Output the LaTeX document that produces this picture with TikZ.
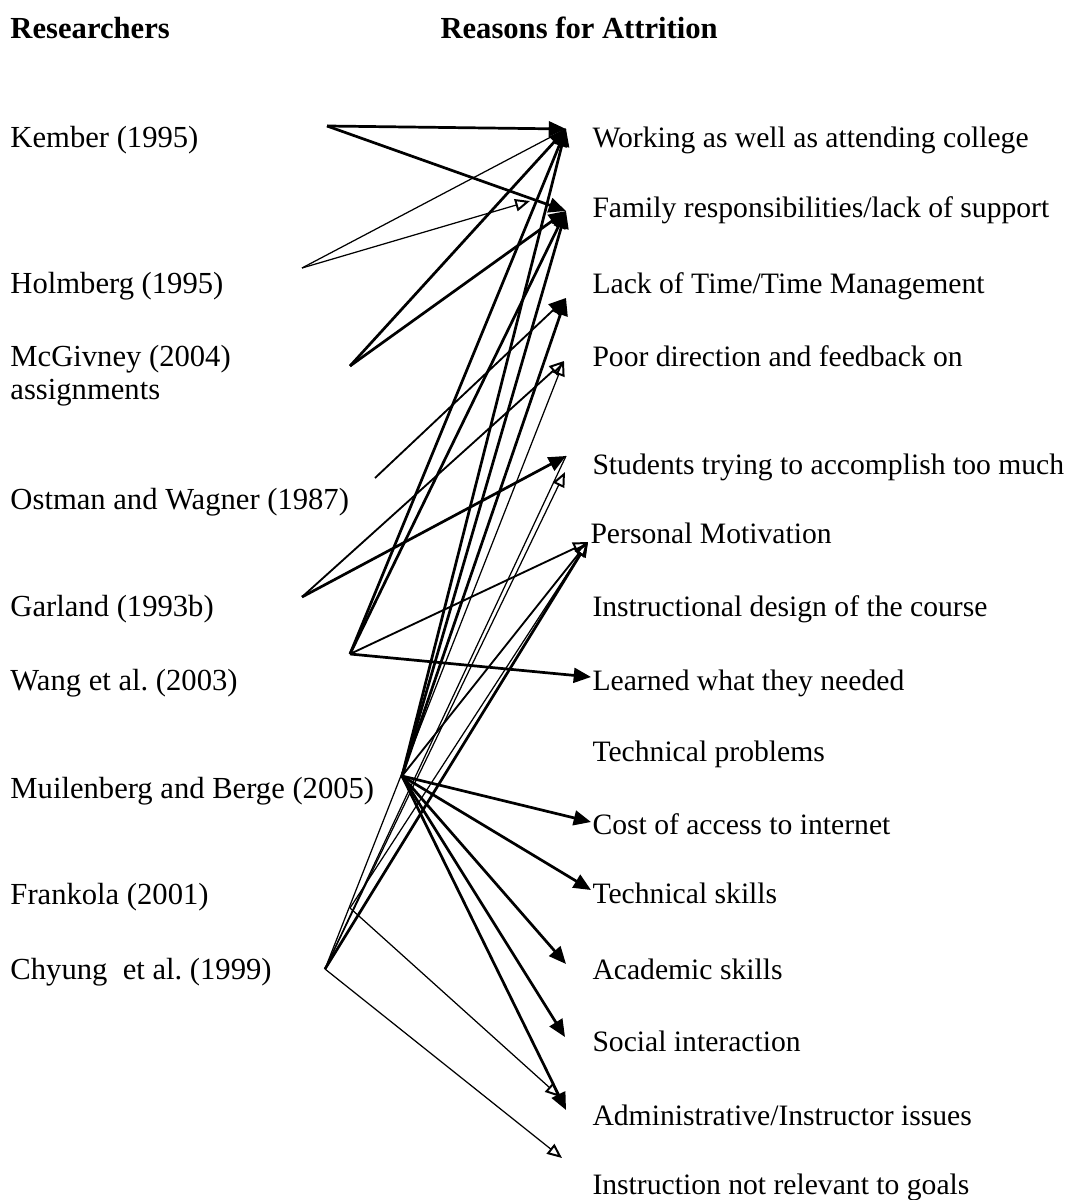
\documentclass[tikz,border=0pt]{standalone}
\usepackage{fontspec}
\setmainfont{Liberation Serif}
\usetikzlibrary{arrows.meta}
\tikzset{
    >={Triangle[length=7pt,width=6pt]},
    hdr/.style={anchor=base west,inner sep=0pt,font=\fontsize{12.4}{15}\selectfont\bfseries},
    who/.style={anchor=base west,inner sep=0pt,font=\fontsize{12.4}{15}\selectfont},
    why/.style={anchor=base west,inner sep=0pt,font=\fontsize{12}{15}\selectfont},
    fatline/.style={line width=1.1pt},
    midline/.style={line width=0.75pt},
    slimline/.style={line width=0.5pt},
    hollow/.style={-{Triangle[open,length=6pt,width=5pt,line width=0.8pt]}},
}

\begin{document}
\begin{tikzpicture}[x=0.405pt,y=-0.405pt]
    \useasboundingbox (0,0) rectangle (1076,1200);

    % headings
    \node[hdr] (hres) at (10,39) {Researchers};
    \node[hdr] (hwhy) at (440,39) {Reasons for Attrition};

    % researchers
    \node[who] (kember) at (10,148) {Kember (1995)};
    \node[who] (holm) at (10,294) {Holmberg (1995)};
    \node[who] (mcgiv) at (10,366) {McGivney (2004)};
    \node[who] (assign) at (10,399) {assignments};
    \node[who] (ostman) at (10,509) {Ostman and Wagner (1987)};
    \node[who] (garl) at (10,616) {Garland (1993b)};
    \node[who] (wang) at (10,690) {Wang et al.\ (2003)};
    \node[who] (muil) at (10,798) {Muilenberg and Berge (2005)};
    \node[who] (frank) at (10,904) {Frankola (2001)};
    \node[who] (chyung) at (10,979) {Chyung\ \ et al.\ (1999)};

    % reasons
    \node[why] (work) at (592,148) {Working as well as attending college};
    \node[why] (fam) at (592,218) {Family responsibilities/lack of support};
    \node[why] (lack) at (592,294) {Lack of Time/Time Management};
    \node[why] (poor) at (592,366) {Poor direction and feedback on};
    \node[why] (stud) at (592,474) {Students trying to accomplish too much};
    \node[why] (pers) at (590,543) {Personal Motivation};
    \node[why] (instr) at (592,616) {Instructional design of the course};
    \node[why] (learn) at (592,690) {Learned what they needed};
    \node[why] (techp) at (592,761) {Technical problems};
    \node[why] (cost) at (592,834) {Cost of access to internet};
    \node[why] (techs) at (592,903) {Technical skills};
    \node[why] (acad) at (592,979) {Academic skills};
    \node[why] (soc) at (592,1051) {Social interaction};
    \node[why] (admin) at (592,1125) {Administrative/Instructor issues};
    \node[why] (goals) at (592,1194) {Instruction not relevant to goals};

    % where the lines start
    \coordinate (kemS) at (327,126);
    \coordinate (holS) at (302,268);
    \coordinate (mcgS) at (350,366);
    \coordinate (ostS) at (375,478);
    \coordinate (garS) at (302,597);
    \coordinate (wangS) at (350,654);
    \coordinate (muiS) at (402,776);
    \coordinate (fraS) at (350,908);
    \coordinate (chyS) at (325,969);

    % where the heads sit
    \coordinate (workT) at (566,129);
    \coordinate (famT) at (566,211);
    \coordinate (famV) at (530,201);
    \coordinate (lackT) at (566,298);
    \coordinate (poorT) at (564,361);
    \coordinate (studT) at (566,456);
    \coordinate (studV) at (565,472);
    \coordinate (persT) at (588,542);
    \coordinate (learnT) at (591,677);
    \coordinate (costT) at (591,822);
    \coordinate (techsT) at (591,890);
    \coordinate (acadT) at (566,964);
    \coordinate (socT) at (565,1037);
    \coordinate (adminV) at (560,1097);
    \coordinate (adminT) at (566,1110);
    \coordinate (goalsV) at (562,1158);

    % Kember, Holmberg, McGivney
    \draw[fatline,->] (kemS) -- (workT);
    \draw[fatline,->] (kemS) -- (famT);
    \draw[slimline] (holS) -- (workT);
    \draw[slimline,hollow] (holS) -- (famV);
    \draw[fatline,->] (mcgS) -- (workT);
    \draw[fatline,->] (mcgS) -- (famT);

    % Ostman, Garland, Wang
    \draw[midline,->] (ostS) -- (lackT);
    \draw[midline,hollow] (garS) -- (poorT);
    \draw[fatline,->] (garS) -- (studT);
    \draw[fatline,->] (wangS) -- (workT);
    \draw[fatline,->] (wangS) -- (famT);
    \draw[midline,hollow] (wangS) -- (persT);
    \draw[fatline,->] (wangS) -- (learnT);

    % Muilenberg and Berge
    \draw[fatline,->] (muiS) -- (workT);
    \draw[fatline,->] (muiS) -- (famT);
    \draw[fatline,->] (muiS) -- (lackT);
    \draw[midline,hollow] (muiS) -- (persT);
    \draw[fatline,->] (muiS) -- (costT);
    \draw[fatline,->] (muiS) -- (techsT);
    \draw[fatline,->] (muiS) -- (acadT);
    \draw[fatline,->] (muiS) -- (socT);
    \draw[fatline,->] (muiS) -- (adminT);

    % Frankola, Chyung
    \draw[slimline,hollow] (fraS) -- (persT);
    \draw[slimline,hollow] (fraS) -- (adminV);
    \draw[slimline,hollow] (chyS) -- (poorT);
    \draw[slimline] (chyS) -- (studT);
    \draw[slimline,hollow] (chyS) -- (studV);
    \draw[fatline,hollow] (chyS) -- (persT);
    \draw[slimline,hollow] (chyS) -- (goalsV);
\end{tikzpicture}
\end{document}
